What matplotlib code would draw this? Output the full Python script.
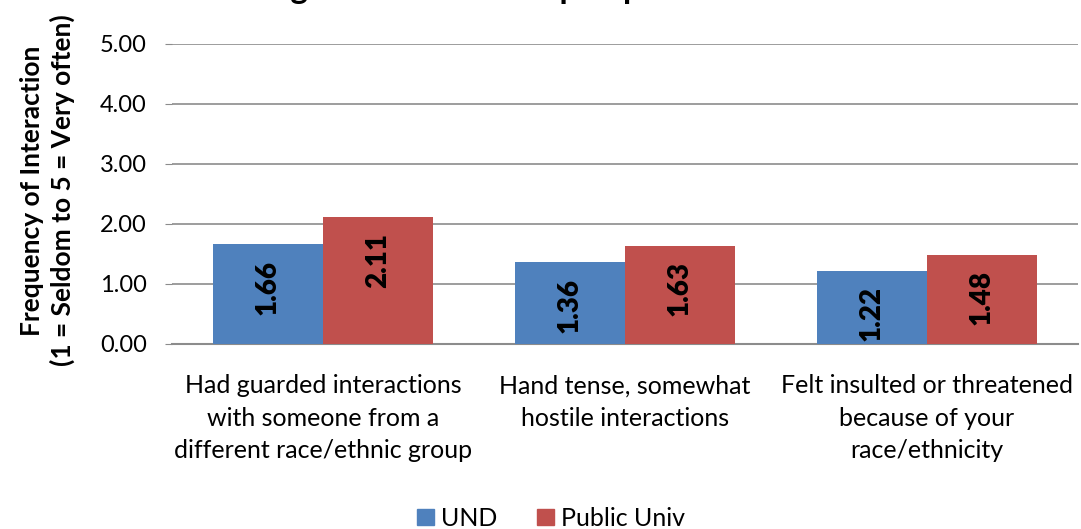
import matplotlib
matplotlib.use("Agg")
import matplotlib.pyplot as plt
from matplotlib.patches import Patch
import numpy as np

categories = [
    "Had guarded interactions\nwith someone from a\ndifferent race/ethnic group",
    "Hand tense, somewhat\nhostile interactions",
    "Felt insulted or threatened\nbecause of your\nrace/ethnicity",
]
und = [1.66, 1.36, 1.22]
public_univ = [2.11, 1.63, 1.48]
series_names = ["UND", "Public Univ"]
yticks = [0, 1, 2, 3, 4, 5]

BLUE = "#4F81BD"
RED = "#C0504D"
GRID = "#8c8c8c"

plt.rcParams["font.family"] = ["Lato", "DejaVu Sans"]

fig = plt.figure(figsize=(10.81, 5.29), dpi=100)
ax = fig.add_axes([0.159, 0.350, 0.838, 0.567])

x = np.arange(len(categories))
w = 0.364
b1 = ax.bar(x - w / 2, und, w, color=BLUE, zorder=3)
b2 = ax.bar(x + w / 2, public_univ, w, color=RED, zorder=3)

for bars, vals in [(b1, und), (b2, public_univ)]:
    for rect, v in zip(bars, vals):
        ax.annotate(f"{v:.2f}", (rect.get_x() + rect.get_width() / 2, v),
                    xytext=(0, -11), textcoords="offset points",
                    rotation=90, ha="center", va="top",
                    fontsize=20, fontweight="heavy", color="black", zorder=4)

ax.set_xlim(-0.5, len(categories) - 0.5)
ax.set_ylim(0, 5)
ax.set_yticks(yticks)
ax.set_yticklabels([f"{t:.2f}" for t in yticks], fontsize=17)
ax.yaxis.grid(True, color=GRID, linewidth=1.2, zorder=0)
ax.tick_params(axis="y", length=5, color=GRID, pad=13)
ax.tick_params(axis="x", length=0, pad=22)
ax.set_xticks(x)
ax.set_xticklabels(categories, fontsize=18, linespacing=1.5)
for s in ["top", "right", "left"]:
    ax.spines[s].set_visible(False)
ax.spines["bottom"].set_color(GRID)
ax.spines["bottom"].set_linewidth(1.5)

fig.text(0.044, 0.64, "Frequency of Interaction\n(1 = Seldom to 5 = Very often)",
         rotation=90, ha="center", va="center", fontsize=19,
         fontweight="bold", linespacing=1.3)

# title, mostly cropped off the top of the original image
fig.text(0.468, 0.993, "Negative Cross-Group Experiences", ha="center",
         va="bottom", fontsize=24, fontweight="bold")

handles = [Patch(color=BLUE), Patch(color=RED)]
fig.legend(handles, series_names, loc="center", bbox_to_anchor=(0.51, 0.02),
           ncol=2, frameon=False, fontsize=18, handlelength=0.65,
           handleheight=0.65, handletextpad=0.3, columnspacing=1.6)

fig.savefig("out.png", dpi=100)
